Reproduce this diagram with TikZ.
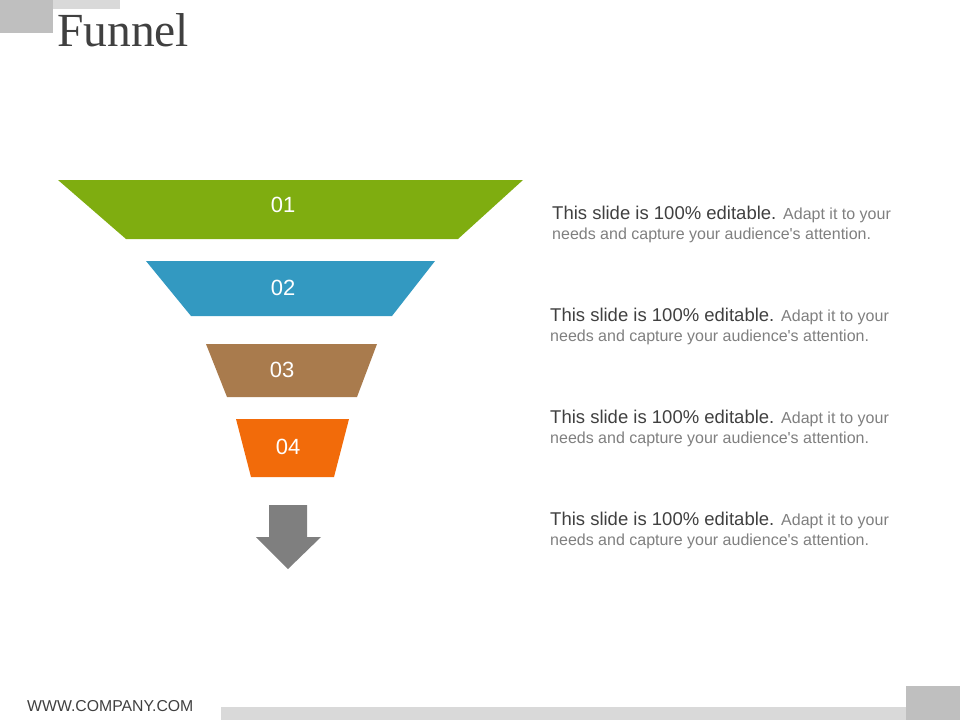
\documentclass[tikz,border=0pt]{standalone}
\usepackage{fontspec}
\setmainfont{Liberation Sans}
\newfontfamily\titlefont{Liberation Serif}
\definecolor{darktext}{HTML}{404040}
\definecolor{softtext}{HTML}{7F7F7F}
\definecolor{boxgray}{HTML}{BFBFBF}
\definecolor{bargray}{HTML}{D9D9D9}
\definecolor{arrowgray}{HTML}{7F7F7F}
\definecolor{stagegreen}{HTML}{7FAD10}
\definecolor{stageblue}{HTML}{3399C1}
\definecolor{stagebrown}{HTML}{A97B4D}
\definecolor{stageorange}{HTML}{F26B0A}
\newcommand\note[3]{
  \node[lead] (#1) at (#2,#3) {This slide is 100\% editable.
    {\color{softtext}\fontsize{16}{19}\selectfont Adapt it to your}};
  \node[body] (#1b) at (#2,#3+20) {needs and capture your audience\textquotesingle s attention.};
}

\begin{document}
\begin{tikzpicture}[
    x=1pt,y=-1pt,
    lead/.style={anchor=base west,inner sep=0pt,text=darktext,font=\fontsize{18.5}{22}\selectfont},
    body/.style={anchor=base west,inner sep=0pt,text=softtext,font=\fontsize{16}{19}\selectfont},
    stagelabel/.style={text=white,inner sep=0pt,font=\fontsize{22}{26}\selectfont}
  ]
    \useasboundingbox (0,0) rectangle (960,720);

    \fill[boxgray] (0,0) rectangle (53,33);
    \fill[bargray] (53,0) rectangle (120,9);
    \node[anchor=base west,inner sep=0pt,text=darktext,font=\titlefont\fontsize{47.5}{52}\selectfont]
      (title) at (57,46) {Funnel};

    \fill[stagegreen] (58,180) -- (523,180) -- (458,239) -- (126,239) -- cycle;
    \node[stagelabel] (s1) at (283,205) {01};
    \fill[stageblue] (146,261) -- (435,261) -- (392,316) -- (191,316) -- cycle;
    \node[stagelabel] (s2) at (283,288) {02};
    \fill[stagebrown] (206,344) -- (377,344) -- (357,397) -- (227,397) -- cycle;
    \node[stagelabel] (s3) at (282,370) {03};
    \fill[stageorange] (236,419) -- (349,419) -- (334,477) -- (251,477) -- cycle;
    \node[stagelabel] (s4) at (288,447) {04};

    \fill[arrowgray] (269,505) -- (307,505) -- (307,537) -- (321,537)
      -- (288,569) -- (256,537) -- (269,537) -- cycle;

    \note{n1}{552}{219}
    \note{n2}{550}{321}
    \note{n3}{550}{423}
    \note{n4}{550}{525}

    \node[anchor=base west,inner sep=0pt,text=darktext,font=\fontsize{15.8}{18}\selectfont]
      (web) at (27,711) {WWW.COMPANY.COM};
    \fill[bargray] (221,707) rectangle (906,720);
    \fill[boxgray] (906,686) rectangle (960,720);
  \end{tikzpicture}
\end{document}
